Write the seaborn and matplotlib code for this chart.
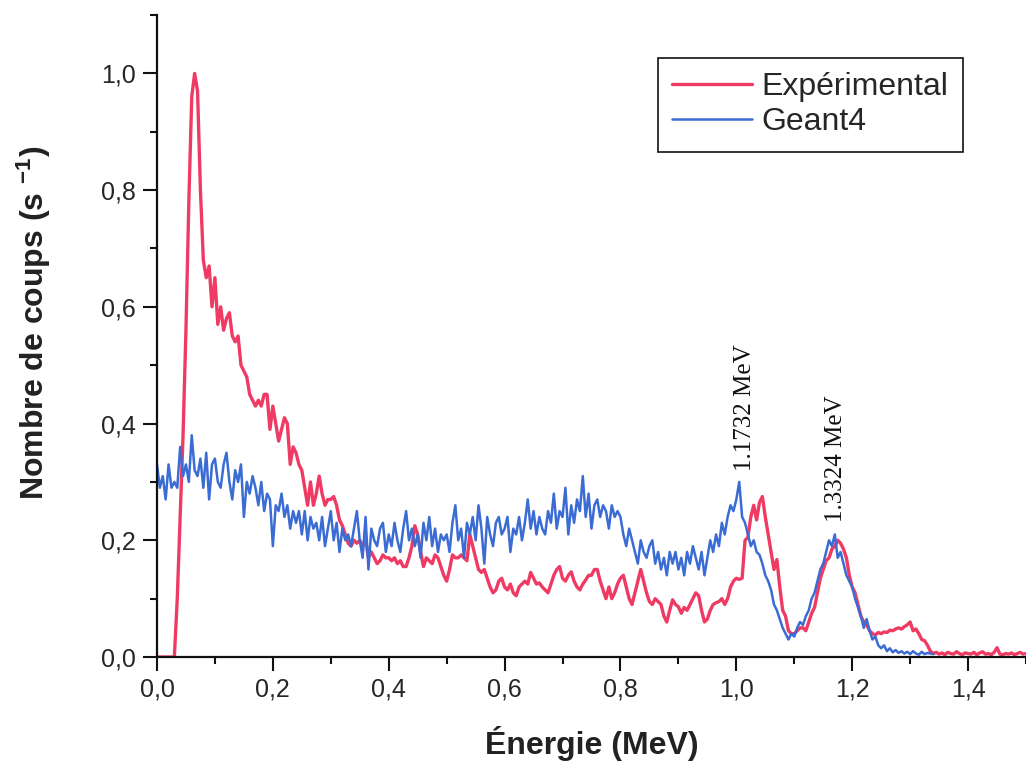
import matplotlib
import matplotlib.pyplot as plt
import numpy as np
import pandas as pd
import seaborn as sns
from matplotlib.ticker import MultipleLocator, FuncFormatter

matplotlib.use("Agg")

# Experimental spectrum, 0.005 MeV bins from 0 to 1.5 MeV
exp_counts = [
    0, 0, 0, 0, 0, 0, 0, 0.10, 0.24, 0.38,
    0.56, 0.78, 0.96, 1.00, 0.97, 0.80, 0.68, 0.65, 0.67, 0.60,
    0.65, 0.57, 0.60, 0.56, 0.58, 0.59, 0.55, 0.54, 0.55, 0.50,
    0.49, 0.48, 0.45, 0.44, 0.43, 0.44, 0.43, 0.45, 0.45, 0.39,
    0.43, 0.40, 0.37, 0.39, 0.41, 0.40, 0.33, 0.36, 0.35, 0.33,
    0.32, 0.29, 0.26, 0.30, 0.26, 0.28, 0.31, 0.28, 0.26, 0.27,
    0.27, 0.275, 0.26, 0.235, 0.225, 0.21, 0.195, 0.19, 0.20, 0.195,
    0.20, 0.19, 0.20, 0.17, 0.18, 0.17, 0.16, 0.165, 0.175, 0.17,
    0.17, 0.165, 0.17, 0.16, 0.165, 0.155, 0.155, 0.17, 0.19, 0.225,
    0.21, 0.18, 0.155, 0.17, 0.165, 0.16, 0.175, 0.17, 0.155, 0.14,
    0.13, 0.15, 0.175, 0.17, 0.17, 0.175, 0.17, 0.165, 0.21, 0.19,
    0.17, 0.15, 0.145, 0.15, 0.135, 0.12, 0.11, 0.115, 0.13, 0.135,
    0.12, 0.115, 0.125, 0.11, 0.105, 0.12, 0.125, 0.13, 0.125, 0.145,
    0.135, 0.125, 0.127, 0.12, 0.115, 0.11, 0.125, 0.14, 0.15, 0.155,
    0.135, 0.13, 0.14, 0.146, 0.13, 0.12, 0.115, 0.125, 0.132, 0.14,
    0.14, 0.15, 0.15, 0.13, 0.115, 0.10, 0.12, 0.10, 0.11, 0.125,
    0.135, 0.14, 0.12, 0.10, 0.09, 0.11, 0.13, 0.15, 0.13, 0.11,
    0.095, 0.09, 0.10, 0.095, 0.09, 0.07, 0.06, 0.08, 0.098, 0.09,
    0.086, 0.075, 0.085, 0.08, 0.09, 0.10, 0.11, 0.105, 0.08, 0.06,
    0.065, 0.08, 0.09, 0.093, 0.095, 0.10, 0.09, 0.10, 0.12, 0.13,
    0.135, 0.133, 0.135, 0.20, 0.205, 0.24, 0.26, 0.235, 0.265, 0.275,
    0.24, 0.21, 0.18, 0.15, 0.167, 0.12, 0.08, 0.07, 0.045, 0.04,
    0.04, 0.045, 0.05, 0.05, 0.045, 0.06, 0.075, 0.085, 0.11, 0.135,
    0.15, 0.165, 0.17, 0.185, 0.19, 0.20, 0.195, 0.185, 0.17, 0.14,
    0.12, 0.11, 0.09, 0.07, 0.06, 0.055, 0.045, 0.04, 0.038, 0.042,
    0.04, 0.043, 0.042, 0.046, 0.045, 0.048, 0.05, 0.048, 0.052, 0.055,
    0.06, 0.045, 0.048, 0.04, 0.03, 0.028, 0.02, 0.01, 0.006, 0.008,
    0.005, 0.007, 0.004, 0.008, 0.006, 0.005, 0.009, 0.006, 0.004, 0.007,
    0.006, 0.005, 0.008, 0.004, 0.007, 0.009, 0.005, 0.006, 0.004, 0.008,
    0.016, 0.005, 0.004, 0.006, 0.005, 0.007, 0.004, 0.006, 0.008, 0.005,
    0.006,
]

# Geant4 simulation, 0.005 MeV bins from 0 to 1.34 MeV
geant_counts = [
    0.33, 0.29, 0.31, 0.27, 0.33, 0.29, 0.30, 0.29, 0.36, 0.31,
    0.33, 0.30, 0.38, 0.32, 0.31, 0.34, 0.29, 0.35, 0.27, 0.33,
    0.34, 0.30, 0.29, 0.33, 0.35, 0.30, 0.27, 0.32, 0.30, 0.33,
    0.24, 0.30, 0.28, 0.31, 0.29, 0.26, 0.30, 0.25, 0.28, 0.27,
    0.19, 0.26, 0.25, 0.28, 0.24, 0.26, 0.22, 0.25, 0.23, 0.25,
    0.21, 0.25, 0.20, 0.24, 0.22, 0.23, 0.20, 0.24, 0.19, 0.22,
    0.25, 0.20, 0.23, 0.18, 0.22, 0.20, 0.21, 0.19, 0.22, 0.25,
    0.20, 0.17, 0.24, 0.15, 0.22, 0.20, 0.19, 0.22, 0.23, 0.18,
    0.21, 0.19, 0.23, 0.20, 0.18, 0.22, 0.25, 0.20, 0.22, 0.19,
    0.21, 0.17, 0.23, 0.20, 0.24, 0.19, 0.22, 0.18, 0.21, 0.20,
    0.21, 0.18, 0.23, 0.26, 0.20, 0.22, 0.17, 0.23, 0.21, 0.24,
    0.20, 0.26, 0.22, 0.16, 0.24, 0.21, 0.19, 0.23, 0.24, 0.21,
    0.22, 0.24, 0.18, 0.22, 0.21, 0.24, 0.20, 0.23, 0.27, 0.22,
    0.25, 0.21, 0.24, 0.22, 0.21, 0.25, 0.23, 0.28, 0.22, 0.25,
    0.24, 0.29, 0.21, 0.26, 0.23, 0.27, 0.25, 0.31, 0.24, 0.28,
    0.22, 0.26, 0.27, 0.24, 0.26, 0.25, 0.22, 0.26, 0.24, 0.25,
    0.24, 0.21, 0.19, 0.22, 0.20, 0.18, 0.16, 0.20, 0.18, 0.17,
    0.19, 0.20, 0.16, 0.18, 0.15, 0.17, 0.14, 0.18, 0.16, 0.18,
    0.15, 0.17, 0.14, 0.18, 0.16, 0.19, 0.17, 0.15, 0.18, 0.14,
    0.17, 0.20, 0.18, 0.21, 0.19, 0.23, 0.21, 0.24, 0.26, 0.25,
    0.27, 0.30, 0.24, 0.23, 0.21, 0.19, 0.20, 0.18, 0.175, 0.16,
    0.14, 0.13, 0.115, 0.09, 0.08, 0.065, 0.05, 0.04, 0.03, 0.04,
    0.035, 0.05, 0.06, 0.055, 0.07, 0.08, 0.10, 0.11, 0.13, 0.15,
    0.16, 0.18, 0.20, 0.19, 0.21, 0.17, 0.18, 0.16, 0.14, 0.13,
    0.12, 0.10, 0.085, 0.07, 0.05, 0.065, 0.045, 0.03, 0.035, 0.02,
    0.015, 0.02, 0.01, 0.015, 0.008, 0.012, 0.007, 0.01, 0.006, 0.009,
    0.005, 0.01, 0.006, 0.004, 0.009, 0.005, 0.007, 0.006, 0.005,
]

BIN_WIDTH = 0.005
peak_labels = ["1.1732 MeV", "1.3324 MeV"]
peak_label_x = [1.015, 1.172]
peak_label_y = [0.318, 0.232]

exp_df = pd.DataFrame({"energy": np.arange(len(exp_counts)) * BIN_WIDTH, "counts": exp_counts})
geant_df = pd.DataFrame({"energy": np.arange(len(geant_counts)) * BIN_WIDTH, "counts": geant_counts})

sns.set_theme(style="ticks")
plt.rcParams["font.family"] = ["Liberation Sans", "DejaVu Sans"]
plt.rcParams["mathtext.default"] = "regular"

fig = plt.figure(figsize=(10.26, 7.63), dpi=100)
ax = fig.add_axes([0.1530, 0.1389, 0.8470, 0.8414])

sns.lineplot(data=exp_df, x="energy", y="counts", color="#ef3b63", linewidth=2.4,
             estimator=None, label="Expérimental", ax=ax)
sns.lineplot(data=geant_df, x="energy", y="counts", color="#3a6cd4", linewidth=1.8,
             estimator=None, label="Geant4", ax=ax)

for text, x, y in zip(peak_labels, peak_label_x, peak_label_y):
    ax.text(x, y, text, rotation=90, ha="center", va="bottom", fontsize=18,
            family=["Liberation Serif", "DejaVu Serif"], color="#111111")

ax.set_xlim(0, 1.5)
ax.set_ylim(0, 1.1)
ax.xaxis.set_major_locator(MultipleLocator(0.2))
ax.xaxis.set_minor_locator(MultipleLocator(0.1))
ax.yaxis.set_major_locator(MultipleLocator(0.2))
ax.yaxis.set_minor_locator(MultipleLocator(0.1))
comma = FuncFormatter(lambda v, _: f"{v:.1f}".replace(".", ","))
ax.xaxis.set_major_formatter(comma)
ax.yaxis.set_major_formatter(comma)

ax.tick_params(which="major", length=10, width=1.5, labelsize=18, color="#111111", pad=5)
ax.tick_params(which="minor", length=5, width=1.5, color="#111111")
for side in ("top", "right"):
    ax.spines[side].set_visible(False)
for side in ("left", "bottom"):
    ax.spines[side].set_linewidth(1.6)
    ax.spines[side].set_color("#111111")

ax.set_xlabel("Énergie (MeV)", fontsize=23, fontweight="bold", color="#222222")
ax.set_ylabel("Nombre de coups (s $^{-1}$)", fontsize=23, fontweight="bold", color="#222222")
ax.xaxis.set_label_coords(0.5, -0.108)
ax.yaxis.set_label_coords(-0.12, 0.52)

leg = ax.legend(loc="upper right", bbox_to_anchor=(0.9275, 0.933), borderaxespad=0,
                fontsize=23, frameon=True, fancybox=False, framealpha=1,
                edgecolor="#111111", handlelength=2.5, handletextpad=0.3,
                borderpad=0.45, labelspacing=0.15)
leg.get_frame().set_linewidth(1.2)

fig.savefig("out.png", dpi=100)
plt.close(fig)
